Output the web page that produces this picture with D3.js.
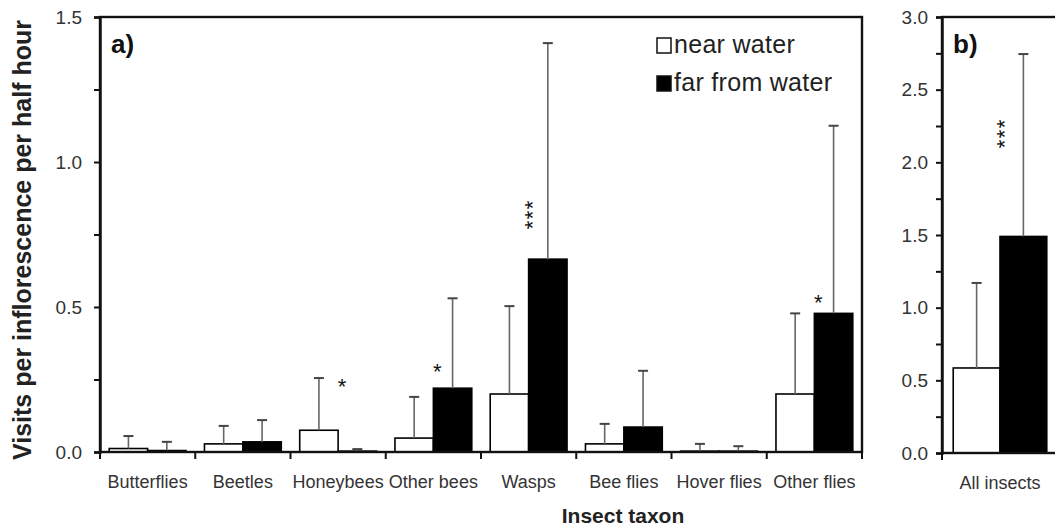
<!DOCTYPE html>
<html>
<head>
<meta charset="utf-8">
<script src="https://cdn.jsdelivr.net/npm/d3@7"></script>
<style>
  body { margin: 0; background: #fff; }
  svg text { font-family: "Liberation Sans", Arial, sans-serif; }
</style>
</head>
<body>
<script>
// data
const categories = ["Butterflies", "Beetles", "Honeybees", "Other bees", "Wasps", "Bee flies", "Hover flies", "Other flies"];
const nearMean = [0.012, 0.028, 0.075, 0.048, 0.2, 0.028, 0.003, 0.2];
const nearSD = [0.043, 0.062, 0.18, 0.142, 0.303, 0.069, 0.025, 0.278];
const farMean = [0.005, 0.035, 0.003, 0.22, 0.665, 0.086, 0.003, 0.478];
const farSD = [0.03, 0.075, 0.007, 0.31, 0.745, 0.194, 0.017, 0.647];
const sigMarks = ["", "", "*", "*", "***", "", "", "*"];
const sigAt = [0, 0, 0.245, 0.295, 0.82, 0, 0, 0.535];

const allCategory = ["All insects"];
const allNearMean = [0.585];
const allNearSD = [0.585];
const allFarMean = [1.49];
const allFarSD = [1.255];
const allSigMarks = ["***"];
const allSigAt = [2.2];

const seriesNames = ["near water", "far from water"];
const seriesFill = ["#fff", "#000"];

const width = 1055,
  height = 529;

const svg = d3
  .select("body")
  .append("svg")
  .attr("width", width)
  .attr("height", height);

// build rows for a panel
const makeRows = (cats, nm, ns, fm, fs, sm, sa) =>
  cats.map((c, i) => ({
    cat: c,
    vals: [
      { key: "near", mean: nm[i], sd: ns[i] },
      { key: "far", mean: fm[i], sd: fs[i] },
    ],
    sig: sm[i],
    sigAt: sa[i],
  }));

const drawPanel = (opt) => {
  const { rows, x0, x1, yTop, yBottom, yMax, label, tickPad } = opt;

  const xScale = d3
    .scaleBand()
    .domain(rows.map((d) => d.cat))
    .range([x0, x1]);
  const subScale = d3
    .scaleBand()
    .domain(["near", "far"])
    .range([0, xScale.bandwidth()])
    .paddingOuter(0.24);
  const yScale = d3.scaleLinear().domain([0, yMax]).range([yBottom, yTop]);

  const g = svg.append("g");

  // bars
  const groups = g
    .selectAll(".grp")
    .data(rows)
    .enter()
    .append("g")
    .attr("transform", (d) => "translate(" + xScale(d.cat) + ",0)");

  groups
    .selectAll("rect")
    .data((d) => d.vals)
    .enter()
    .append("rect")
    .attr("x", (d) => subScale(d.key))
    .attr("y", (d) => yScale(d.mean))
    .attr("width", subScale.bandwidth())
    .attr("height", (d) => yBottom - yScale(d.mean))
    .attr("fill", (d) => (d.key == "near" ? seriesFill[0] : seriesFill[1]))
    .attr("stroke", "#000")
    .attr("stroke-width", 1.6);

  // error bars (upper only)
  const err = groups
    .selectAll(".err")
    .data((d) => d.vals)
    .enter()
    .append("g");
  err
    .append("line")
    .attr("x1", (d) => subScale(d.key) + subScale.bandwidth() / 2)
    .attr("x2", (d) => subScale(d.key) + subScale.bandwidth() / 2)
    .attr("y1", (d) => yScale(d.mean))
    .attr("y2", (d) => yScale(d.mean + d.sd))
    .attr("stroke", "#666")
    .attr("stroke-width", 1.6);
  err
    .append("line")
    .attr("x1", (d) => subScale(d.key) + subScale.bandwidth() / 2 - 5)
    .attr("x2", (d) => subScale(d.key) + subScale.bandwidth() / 2 + 5)
    .attr("y1", (d) => yScale(d.mean + d.sd))
    .attr("y2", (d) => yScale(d.mean + d.sd))
    .attr("stroke", "#444")
    .attr("stroke-width", 2);

  // significance stars, at left edge of far bar
  groups
    .filter((d) => d.sig == "*")
    .append("text")
    .attr("x", subScale("far") + 4)
    .attr("y", (d) => yScale(d.sigAt))
    .attr("dy", "0.58em")
    .attr("text-anchor", "middle")
    .style("font-size", "22px")
    .style("fill", "#111")
    .text((d) => d.sig);

  groups
    .filter((d) => d.sig == "***")
    .append("text")
    .attr(
      "transform",
      (d) => "translate(" + (subScale("far") - 1) + "," + yScale(d.sigAt) + ") rotate(-90)"
    )
    .attr("dy", "0.58em")
    .attr("text-anchor", "middle")
    .style("font-size", "22px")
    .style("letter-spacing", "1.5px")
    .style("fill", "#111")
    .text((d) => d.sig);

  // frame
  g.append("rect")
    .attr("x", x0)
    .attr("y", yTop)
    .attr("width", x1 - x0)
    .attr("height", yBottom - yTop)
    .attr("fill", "none")
    .attr("stroke", "#111")
    .attr("stroke-width", 2.4);

  // y axis with minor ticks
  const ticks = d3.range(0, yMax + 0.001, 0.25);
  const yAxis = d3
    .axisLeft(yScale)
    .tickValues(ticks)
    .tickSize(6)
    .tickPadding(tickPad)
    .tickFormat((v) => (Math.abs(v * 2 - Math.round(v * 2)) < 1e-6 ? d3.format(".1f")(v) : ""));
  const ya = g
    .append("g")
    .attr("transform", "translate(" + x0 + ",0)")
    .call(yAxis);
  ya.select(".domain").attr("stroke", "#111").attr("stroke-width", 2.4);
  ya.selectAll(".tick line").attr("stroke", "#111").attr("stroke-width", 2);
  ya.selectAll(".tick text")
    .style("font-size", "19px")
    .style("fill", "#333");

  // x boundary ticks
  const bounds = rows.map((d) => xScale(d.cat)).concat([xScale.range()[1]]);
  g.selectAll(".btick")
    .data(bounds)
    .enter()
    .append("line")
    .attr("x1", (d) => d)
    .attr("x2", (d) => d)
    .attr("y1", yBottom)
    .attr("y2", yBottom + 7)
    .attr("stroke", "#111")
    .attr("stroke-width", 2);

  // category labels
  g.selectAll(".clabel")
    .data(rows)
    .enter()
    .append("text")
    .attr("x", (d) => xScale(d.cat) + xScale.bandwidth() / 2)
    .attr("y", yBottom + 36)
    .attr("text-anchor", "middle")
    .style("font-size", "18px")
    .style("fill", "#333")
    .text((d) => d.cat);

  // panel letter
  g.append("text")
    .attr("x", x0 + 11)
    .attr("y", yTop + 36)
    .style("font-size", "26px")
    .style("font-weight", "bold")
    .style("fill", "#111")
    .text(label);

  return g;
};

const rowsA = makeRows(categories, nearMean, nearSD, farMean, farSD, sigMarks, sigAt);
const rowsB = makeRows(allCategory, allNearMean, allNearSD, allFarMean, allFarSD, allSigMarks, allSigAt);

const gA = drawPanel({ rows: rowsA, x0: 100, x1: 862, yTop: 17, yBottom: 452, yMax: 1.5, label: "a)", tickPad: 12 });
drawPanel({ rows: rowsB, x0: 942, x1: 1058, yTop: 17, yBottom: 453, yMax: 3, label: "b)", tickPad: 8 });

// legend
const legend = gA.append("g").attr("transform", "translate(657,38)");
legend
  .selectAll("rect")
  .data(seriesNames)
  .enter()
  .append("rect")
  .attr("x", 0)
  .attr("y", (d, i) => i * 38)
  .attr("width", 14)
  .attr("height", 15)
  .attr("fill", (d, i) => seriesFill[i])
  .attr("stroke", "#111")
  .attr("stroke-width", 1.5);
legend
  .selectAll("text")
  .data(seriesNames)
  .enter()
  .append("text")
  .attr("x", 17)
  .attr("y", (d, i) => i * 38 + 15)
  .style("font-size", "25px")
  .style("letter-spacing", "0.3px")
  .style("fill", "#222")
  .text((d) => d);

// axis titles
svg
  .append("text")
  .attr("transform", "translate(31,240) rotate(-90)")
  .attr("text-anchor", "middle")
  .style("font-size", "25px")
  .style("font-weight", "bold")
  .style("fill", "#222")
  .text("Visits per inflorescence per half hour");

svg
  .append("text")
  .attr("x", 623)
  .attr("y", 523)
  .attr("text-anchor", "middle")
  .style("font-size", "21px")
  .style("font-weight", "bold")
  .style("fill", "#222")
  .text("Insect taxon");
</script>
</body>
</html>
